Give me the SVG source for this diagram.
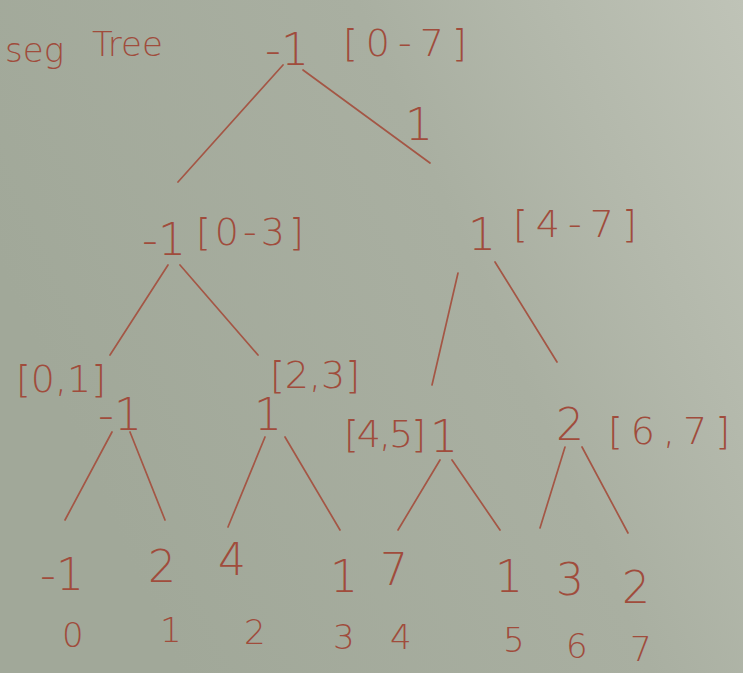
<svg xmlns="http://www.w3.org/2000/svg" width="743" height="673" viewBox="0 0 743 673">
<defs>
<linearGradient id="bg" x1="0" y1="0.4" x2="1" y2="0">
<stop offset="0" stop-color="#a1a899"/>
<stop offset="0.55" stop-color="#a9afa1"/>
<stop offset="1" stop-color="#bfc3b7"/>
</linearGradient>
<style>
text{font-family:"DejaVu Sans","Liberation Sans",sans-serif;fill:#a04c3c;font-weight:300}
.v{font-size:44px}
.r{font-size:38px;letter-spacing:4px}
.i{font-size:34px}
.t{font-size:34px}
#edges line{stroke:#a45645;stroke-width:1.7;stroke-linecap:round}
</style>
</defs>
<rect width="743" height="673" fill="url(#bg)"/>
<g id="title"><text class="t" x="5" y="62">seg</text><text class="t" x="92" y="56">Tree</text></g>
<g id="edges">
<line x1="283" y1="65" x2="178" y2="182"/>
<line x1="303" y1="70" x2="430" y2="163"/>
<line x1="168" y1="265" x2="110" y2="355"/>
<line x1="180" y1="265" x2="258" y2="355"/>
<line x1="458" y1="273" x2="432" y2="385"/>
<line x1="495" y1="262" x2="557" y2="362"/>
<line x1="112" y1="432" x2="65" y2="520"/>
<line x1="130" y1="432" x2="165" y2="520"/>
<line x1="265" y1="437" x2="228" y2="527"/>
<line x1="285" y1="437" x2="340" y2="530"/>
<line x1="440" y1="460" x2="398" y2="530"/>
<line x1="452" y1="460" x2="500" y2="530"/>
<line x1="565" y1="447" x2="540" y2="528"/>
<line x1="582" y1="447" x2="628" y2="533"/>
</g>
<g id="n-root"><text class="v" x="265" y="65">-1</text><text class="r" x="343" y="56" style="letter-spacing:8px">[0-7]</text></g>
<g id="n-root-label"><text class="v" x="405" y="140">1</text></g>
<g id="n-03"><text class="v" x="142" y="255">-1</text><text class="r" x="196" y="245">[0-3]</text></g>
<g id="n-47"><text class="v" x="468" y="250">1</text><text class="r" x="513" y="237" style="letter-spacing:8px">[4-7]</text></g>
<g id="n-01"><text class="r" x="16" y="392" style="letter-spacing:0">[0,1]</text><text class="v" x="98" y="430">-1</text></g>
<g id="n-23"><text class="r" x="270" y="388" style="letter-spacing:0">[2,3]</text><text class="v" x="254" y="430">1</text></g>
<g id="n-45"><text class="r" x="344" y="447" style="letter-spacing:-2px">[4,5]</text><text class="v" x="430" y="452">1</text></g>
<g id="n-67"><text class="v" x="556" y="440">2</text><text class="r" x="608" y="444" style="letter-spacing:8px">[6,7]</text></g>
<g id="leaves">
<text class="v" x="40" y="590">-1</text>
<text class="v" x="148" y="582">2</text>
<text class="v" x="218" y="575">4</text>
<text class="v" x="330" y="592">1</text>
<text class="v" x="380" y="585">7</text>
<text class="v" x="495" y="592">1</text>
<text class="v" x="556" y="595">3</text>
<text class="v" x="622" y="603">2</text>
</g>
<g id="indexes">
<text class="i" x="62" y="647">0</text>
<text class="i" x="160" y="642">1</text>
<text class="i" x="244" y="644">2</text>
<text class="i" x="333" y="649">3</text>
<text class="i" x="390" y="649">4</text>
<text class="i" x="503" y="652">5</text>
<text class="i" x="566" y="658">6</text>
<text class="i" x="630" y="661">7</text>
</g>
</svg>
